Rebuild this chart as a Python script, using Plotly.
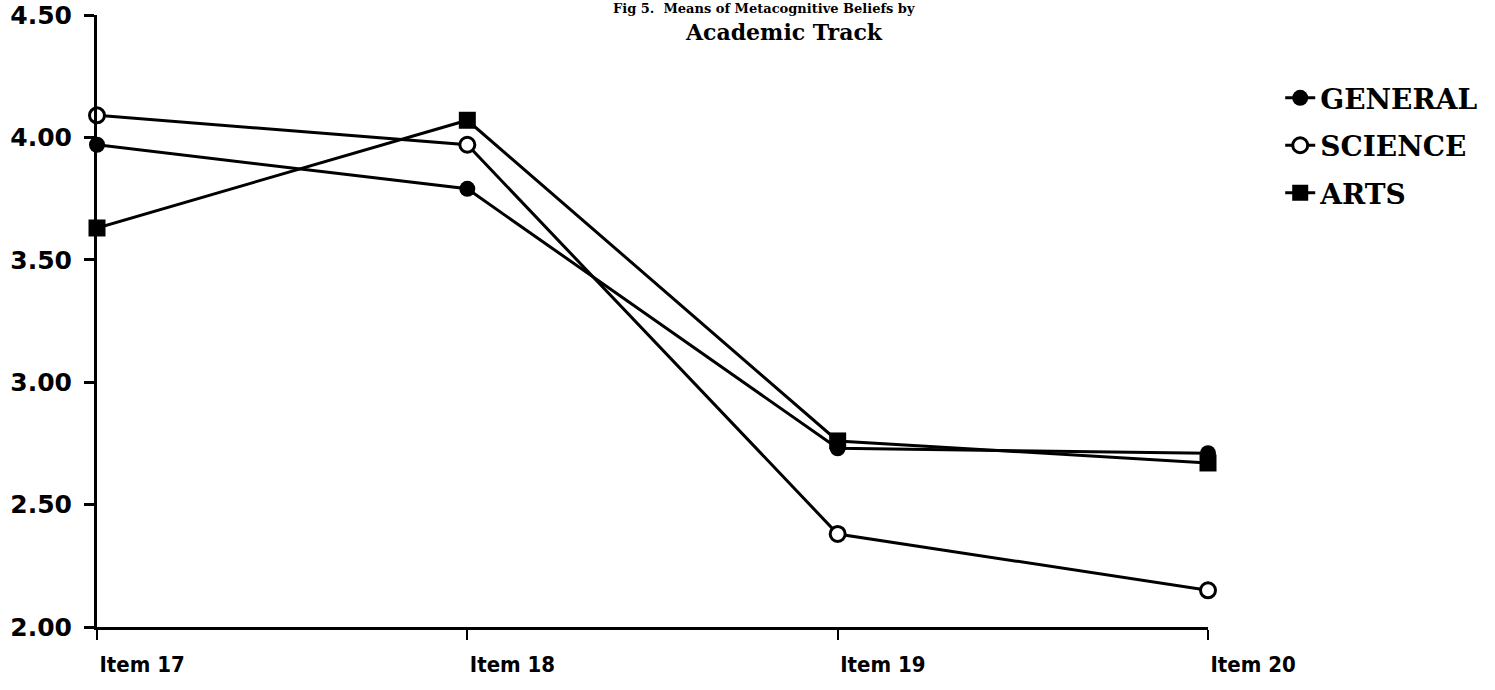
import plotly.graph_objects as go

categories = ["Item 17", "Item 18", "Item 19", "Item 20"]
general = [3.97, 3.79, 2.73, 2.71]
science = [4.09, 3.97, 2.38, 2.15]
arts = [3.63, 4.07, 2.76, 2.67]
y_ticks = [2.0, 2.5, 3.0, 3.5, 4.0, 4.5]
y_tick_labels = ["2.00", "2.50", "3.00", "3.50", "4.00", "4.50"]

title_line1 = "Fig 5.  Means of Metacognitive Beliefs by"
title_line2 = "Academic Track"

x = list(range(len(categories)))

fig = go.Figure()
fig.add_trace(go.Scatter(
    x=x, y=general, name="GENERAL", mode="lines+markers", cliponaxis=False,
    legendgroup="g", line=dict(color="black", width=3),
    marker=dict(symbol="circle", size=16, color="black"),
))
fig.add_trace(go.Scatter(
    x=x, y=science, name="SCIENCE", mode="lines+markers", cliponaxis=False,
    legendgroup="s", line=dict(color="black", width=3),
    marker=dict(symbol="circle", size=15, color="white", line=dict(color="black", width=3)),
))
fig.add_trace(go.Scatter(
    x=x, y=arts, name="ARTS", mode="lines+markers", cliponaxis=False,
    legendgroup="a", line=dict(color="black", width=3),
    marker=dict(symbol="square", size=17, color="black"),
))

serif = "DejaVu Serif, Liberation Serif, serif"

fig.update_layout(
    width=1495, height=690,
    paper_bgcolor="white", plot_bgcolor="white",
    margin=dict(l=97, r=287, t=15, b=63),
    showlegend=True,
    legend=dict(
        x=1.065, y=0.905, xanchor="left", yanchor="top",
        font=dict(family=serif, size=28, color="black", weight="bold"),
        itemwidth=30, traceorder="grouped", tracegroupgap=8,
        bgcolor="rgba(0,0,0,0)",
    ),
    annotations=[
        dict(text=title_line1, xref="paper", yref="paper", x=0.6, y=1 + 7 / 612,
             xanchor="center", yanchor="middle", showarrow=False,
             font=dict(family=serif, size=13, color="black", weight="bold")),
        dict(text=title_line2, xref="paper", yref="paper", x=0.618, y=1 - 17 / 612,
             xanchor="center", yanchor="middle", showarrow=False,
             font=dict(family=serif, size=22, color="black", weight="bold")),
    ],
)

fig.update_xaxes(
    range=[0, 3], tickmode="array", tickvals=x, ticktext=categories,
    automargin=False,
    showgrid=False, zeroline=False, showline=True, linecolor="black", linewidth=3,
    ticks="outside", ticklen=10, tickwidth=2, tickcolor="black",
    ticklabelposition="outside right", ticklabelstandoff=16,
    tickfont=dict(family="Liberation Sans Narrow, DejaVu Sans Condensed, sans-serif", size=22, color="black", weight="bold"),
)
fig.update_yaxes(
    range=[2, 4.5], tickmode="array", tickvals=y_ticks, ticktext=y_tick_labels,
    automargin=False, ticklabeloverflow="allow",
    showgrid=False, zeroline=False, showline=True, linecolor="black", linewidth=3,
    ticks="outside", ticklen=10, tickwidth=3, tickcolor="black",
    ticklabelstandoff=7,
    tickfont=dict(family="DejaVu Sans, sans-serif", size=25, color="black", weight="bold"),
)

fig.write_html(
    "out.html",
    config={"displayModeBar": False},
    post_script="document.body.style.margin='0';document.body.style.overflow='hidden';",
)
